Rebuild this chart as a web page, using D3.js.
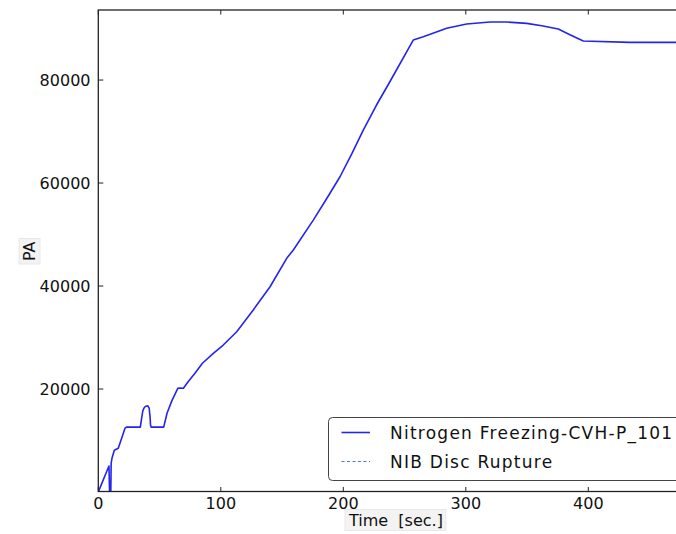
<!DOCTYPE html>
<html><head><meta charset="utf-8">
<script src="https://cdn.jsdelivr.net/npm/d3@7/dist/d3.min.js"></script>
<style>html,body{margin:0;padding:0;background:#fff;}svg{display:block;}</style>
</head><body>
<svg id="c" width="676" height="534"></svg>
<script>
const timeSec = [0, 8.7, 9.2, 10.2, 10.5, 11.2, 13.1, 16.3, 19, 21.8, 23, 34.3, 35.3, 36.3, 37.3, 38.4, 40.3, 41.5, 42.3, 42.6, 43.2, 53.4, 56.1, 60, 64.9, 66.5, 69.5, 73, 78.9, 85, 93.9, 102, 113, 126.5, 140.2, 153.8, 159.2, 175.5, 186, 197.3, 207, 216.3, 227, 238, 257.1, 265.3, 284.4, 300.7, 319.8, 333.4, 349.7, 362, 375.5, 385, 395.9, 434, 470.8, 500];
const pressure = [0, 5050, 0, 0, 5600, 6600, 8100, 8500, 10400, 12400, 12600, 12600, 14200, 15700, 16300, 16600, 16750, 16300, 14500, 13000, 12600, 12600, 15300, 17700, 20130, 20200, 20150, 21300, 23050, 25000, 26930, 28540, 31130, 35340, 39860, 45380, 46990, 52800, 56800, 61220, 65700, 70290, 75100, 79670, 87770, 88400, 90040, 90870, 91260, 91260, 91000, 90550, 89900, 88800, 87570, 87320, 87320, 87320];
const xTicks = [0, 100, 200, 300, 400];
const yTicks = [20000, 40000, 60000, 80000];
const legendLabels = ["Nitrogen Freezing-CVH-P_101", "NIB Disc Rupture"];

const svg = d3.select("#c");
const L = 98.3, T = 10, B = 492, W = 612.5;
const x = d3.scaleLinear().domain([0, 500]).range([L, L + W]);
const y = d3.scaleLinear().domain([0, 93600]).range([B, T]);
const font = "'DejaVu Sans', sans-serif";

svg.append("defs").append("clipPath").attr("id","clip")
  .append("rect").attr("x", L).attr("y", T).attr("width", W).attr("height", B - T);

// line
const line = d3.line().x((d,i)=>x(timeSec[i])).y(d=>y(d));
svg.append("path").datum(pressure).attr("d", line)
  .attr("fill","none").attr("stroke","#2424ee").attr("stroke-width",1.6)
  .attr("stroke-linejoin","round").attr("clip-path","url(#clip)");

// frame
svg.append("rect").attr("x", L).attr("y", T).attr("width", W).attr("height", B - T - 0.5)
  .attr("fill","none").attr("stroke","#222").attr("stroke-width",1.3);

// x ticks (inside, bottom and top)
const gx = svg.append("g");
xTicks.forEach(t => {
  const px = x(t);
  gx.append("line").attr("x1",px).attr("x2",px).attr("y1",B-0.5).attr("y2",B-5).attr("stroke","#222");
  gx.append("line").attr("x1",px).attr("x2",px).attr("y1",T).attr("y2",T+4.5).attr("stroke","#222");
  gx.append("text").attr("x",px).attr("y",508.5).attr("text-anchor","middle")
    .attr("font-family",font).attr("font-size",16).attr("fill","#111").text(d3.format("d")(t));
});
const gy = svg.append("g");
yTicks.forEach(t => {
  const py = y(t);
  gy.append("line").attr("x1",L).attr("x2",L+5).attr("y1",py).attr("y2",py).attr("stroke","#222");
  gy.append("text").attr("x",90.5).attr("y",py+6).attr("text-anchor","end")
    .attr("font-family",font).attr("font-size",16).attr("fill","#111").text(d3.format("d")(t));
});

// axis labels with light boxes
function boxedText(g, txt){
  const t = g.append("text").attr("font-family",font).attr("font-size",16).attr("fill","#111")
    .attr("xml:space","preserve").style("white-space","pre").text(txt);
  const bb = t.node().getBBox();
  g.insert("rect","text").attr("x",bb.x-3).attr("y",bb.y-1).attr("width",bb.width+6).attr("height",bb.height+2)
    .attr("fill","#f3f3f3").attr("stroke","#e4e4e4").attr("stroke-width",0.8);
  return t;
}
const xl = svg.append("g").attr("transform","translate(349,525.5)");
boxedText(xl, "Time  [sec.]");
const yl = svg.append("g").attr("transform","translate(35,261) rotate(-90)");
boxedText(yl, "PA");

// legend
const lg = svg.append("g");
lg.append("rect").attr("x",328.5).attr("y",417.5).attr("width",400).attr("height",63).attr("rx",4)
  .attr("fill","#fff").attr("stroke","#444").attr("stroke-width",1);
lg.append("line").attr("x1",341.5).attr("x2",370).attr("y1",432.5).attr("y2",432.5)
  .attr("stroke","#2424ee").attr("stroke-width",1.6);
lg.append("line").attr("x1",341.5).attr("x2",370).attr("y1",461.5).attr("y2",461.5)
  .attr("stroke","#3f7fd6").attr("stroke-width",1.2).attr("stroke-dasharray","3,2.5");
legendLabels.forEach((s,i)=>{
  lg.append("text").attr("x",390).attr("y",438.5 + i*29).attr("font-family",font)
    .attr("font-size",17).attr("letter-spacing","1.25px").attr("fill","#111").text(s);
});
</script>
</body></html>
